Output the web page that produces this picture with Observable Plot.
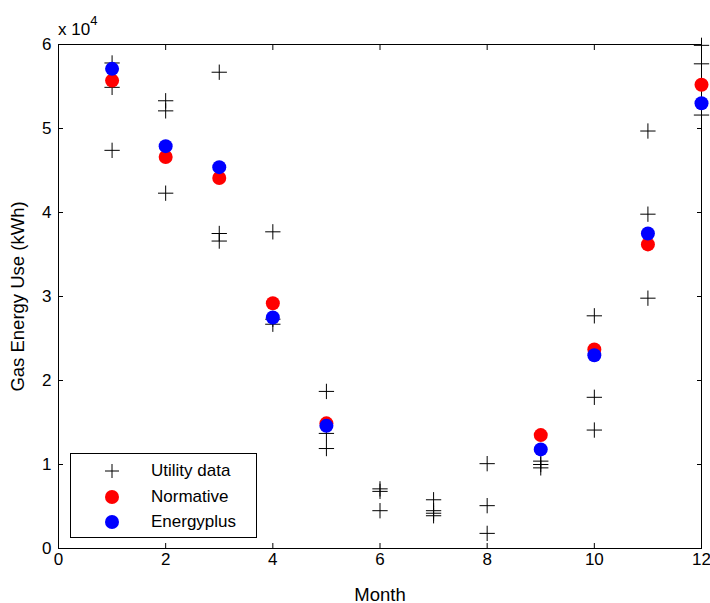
<!DOCTYPE html>
<html>
<head>
<meta charset="utf-8">
<script src="https://cdn.jsdelivr.net/npm/d3@7"></script>
<script src="https://cdn.jsdelivr.net/npm/@observablehq/plot@0.6"></script>
<style>
  body { margin: 0; background: #fff; }
  #wrap { position: relative; width: 710px; height: 603px; font-family: "Liberation Sans", Arial, sans-serif; }
  #exp { position: absolute; left: 58px; top: 16px; font-size: 17px; color: #000; }
  #exp sup { font-size: 13px; position: relative; top: -3px; }
  #legend { position: absolute; left: 70px; top: 453px; width: 187px; height: 85px; border: 1px solid #000; background: #fff; box-sizing: border-box; font-size: 17px; }
  .row { position: absolute; left: 0; height: 24px; display: flex; align-items: center; }
  .row svg { position: absolute; left: 29px; }
  .row span { position: absolute; left: 80px; white-space: nowrap; }
  [aria-label="x-axis label"] text, [aria-label="y-axis label"] text { font-size: 18.5px; }
</style>
</head>
<body>
<div id="wrap"></div>
<script>
const months = [1, 2, 3, 4, 5, 6, 7, 8, 9, 10, 11, 12];
const utility = [
  [57800, 54900, 47400],
  [53300, 52100, 42300],
  [56700, 37500, 36600],
  [37700, 27300, 26700],
  [18700, 13700, 11900],
  [7100, 6800, 4500],
  [5800, 4500, 4200, 3900],
  [10100, 5100, 1800],
  [10400, 10000, 9600],
  [27700, 18000, 14100],
  [49700, 39800, 29800],
  [59900, 57700, 51600]
];
const normative = [55700, 46600, 44100, 29200, 14900, null, null, null, 13500, 23700, 36200, 55200];
const energyplus = [57100, 47900, 45400, 27500, 14600, null, null, null, 11800, 23000, 37500, 53000];
const xTicks = [0, 2, 4, 6, 8, 10, 12];
const yTicks = [0, 10000, 20000, 30000, 40000, 50000, 60000];

const utilRows = utility.flatMap((vals, i) => vals.map(v => ({month: months[i], value: v})));
const normRows = months.map((m, i) => ({month: m, value: normative[i]})).filter(d => d.value != null);
const epRows = months.map((m, i) => ({month: m, value: energyplus[i]})).filter(d => d.value != null);

const chart = Plot.plot({
  width: 710,
  height: 603,
  marginLeft: 58,
  marginRight: 9,
  marginTop: 44,
  marginBottom: 55,
  style: {fontSize: "17px", fontFamily: "Liberation Sans, Arial, sans-serif", color: "#000", background: "#fff"},
  x: {domain: [0, 12]},
  y: {domain: [0, 60000]},
  marks: [
    Plot.frame({stroke: "#000"}),
    Plot.axisX({anchor: "bottom", ticks: xTicks, tickSize: -5, tickPadding: 9, tickFormat: d => String(d),
      label: "Month", labelAnchor: "center", labelOffset: 52, labelArrow: "none"}),
    Plot.axisX({anchor: "top", ticks: xTicks, tickSize: -5, tickFormat: () => "", label: null}),
    Plot.axisY({anchor: "left", ticks: yTicks, tickSize: -5, tickPadding: 12, tickFormat: d => String(d / 10000),
      label: "Gas Energy Use (kWh)", labelAnchor: "center", labelOffset: 48, labelArrow: "none"}),
    Plot.axisY({anchor: "right", ticks: yTicks, tickSize: -5, tickFormat: () => "", label: null}),
    Plot.dot(utilRows, {x: "month", y: "value", symbol: "plus", r: 5, stroke: "#000", strokeWidth: 1}),
    Plot.dot(normRows, {x: "month", y: "value", r: 7, fill: "#ff0000", stroke: "none"}),
    Plot.dot(epRows, {x: "month", y: "value", r: 7, fill: "#0000ff", stroke: "none"})
  ]
});

const wrap = document.getElementById("wrap");
wrap.appendChild(chart);

const exp = document.createElement("div");
exp.id = "exp";
exp.innerHTML = "x 10<sup>4</sup>";
wrap.appendChild(exp);

const legendItems = [
  {label: "Utility data", kind: "plus"},
  {label: "Normative", kind: "dot", color: "#ff0000"},
  {label: "Energyplus", kind: "dot", color: "#0000ff"}
];
const legend = document.createElement("div");
legend.id = "legend";
legendItems.forEach((it, i) => {
  const row = document.createElement("div");
  row.className = "row";
  row.style.top = (5 + i * 25.5) + "px";
  const sym = it.kind === "plus"
    ? `<svg width="24" height="24"><path d="M5,12H19M12,5V19" stroke="#000" stroke-width="1"/></svg>`
    : `<svg width="24" height="24"><circle cx="12" cy="12" r="7" fill="${it.color}"/></svg>`;
  row.innerHTML = sym + `<span>${it.label}</span>`;
  legend.appendChild(row);
});
wrap.appendChild(legend);
</script>
</body>
</html>
